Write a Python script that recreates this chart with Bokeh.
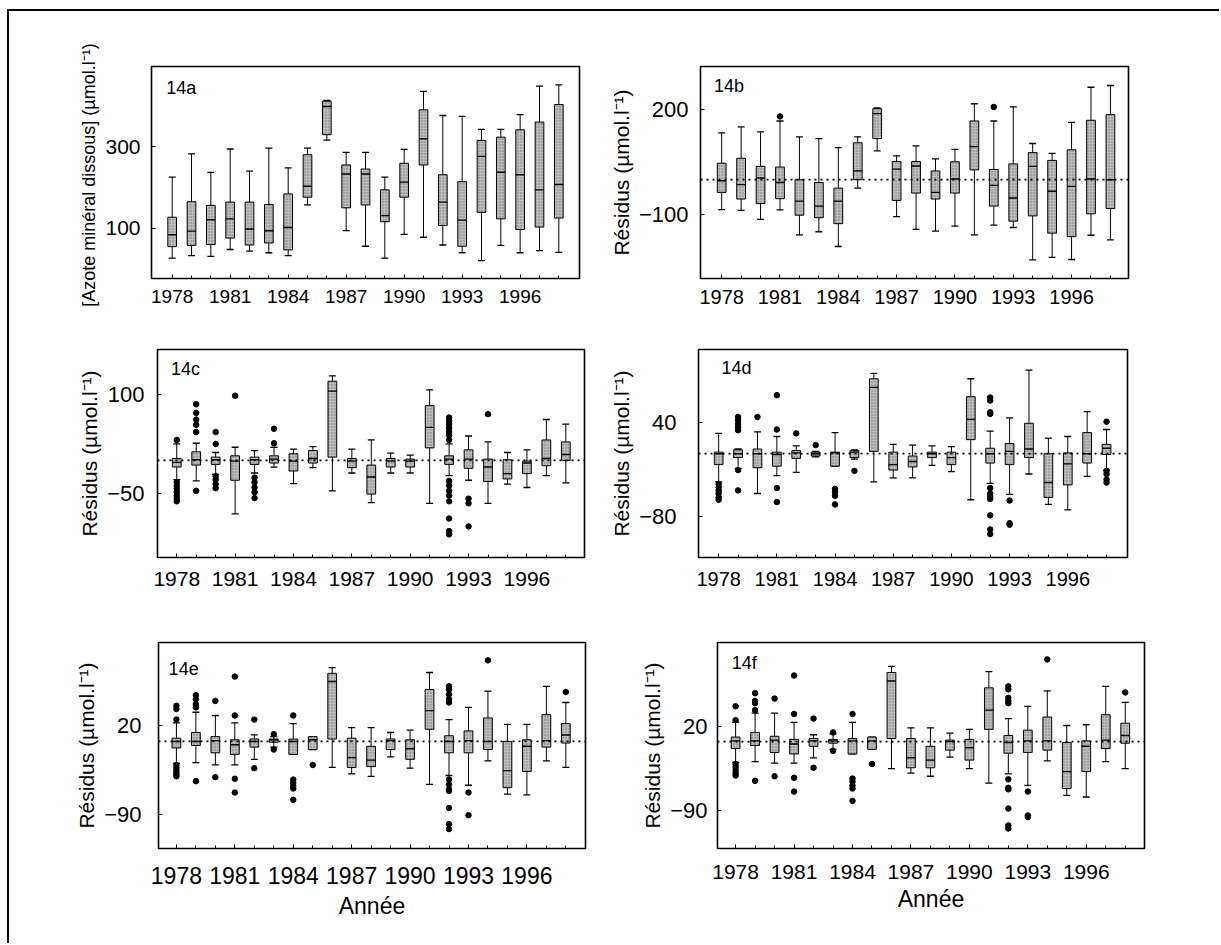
from bokeh.plotting import figure
from bokeh.layouts import column, row
from bokeh.models import FixedTicker, Span, Label, ColumnDataSource
from bokeh.embed import file_html
from bokeh.resources import INLINE

YEARS = list(range(1978, 1999))
LABEL_YEARS = [1978, 1981, 1984, 1987, 1990, 1993, 1996]

# ---- 14a : dissolved mineral nitrogen ----
A_HIGH = [225, 282, 237, 294, 240, 296, 248, 296, 413, 286, 286, 225, 293, 435, 376, 374, 342, 342, 378, 448, 451]
A_Q3 = [127, 165, 156, 164, 164, 158, 184, 280, 411, 255, 245, 194, 259, 390, 231, 214, 315, 323, 341, 360, 403]
A_MED = [84, 93, 121, 123, 98, 94, 102, 203, 398, 233, 233, 131, 213, 319, 164, 120, 276, 237, 231, 194, 207]
A_Q1 = [55, 58, 60, 76, 59, 64, 47, 176, 329, 150, 157, 116, 176, 255, 107, 56, 139, 123, 97, 103, 125]
A_LOW = [27, 33, 31, 48, 44, 40, 33, 157, 316, 94, 56, 27, 85, 78, 59, 40, 21, 58, 40, 45, 41]
A_OUT = {}

# ---- 14b ----
B_HIGH = [133, 150, 136, 167, 122, 117, 91, 122, 204, 68, 96, 59, 86, 216, 167, 207, 103, 75, 163, 263, 268]
B_Q3 = [47, 61, 38, 36, 0, -8, -24, 105, 202, 52, 52, 25, 51, 167, 29, 45, 77, 55, 85, 169, 185]
B_MED = [-3, -14, 5, -8, -61, -75, -61, 25, 188, 30, 39, -36, 2, 94, -16, -52, 38, -33, -19, 2, 0]
B_Q1 = [-36, -55, -68, -54, -101, -108, -125, 0, 117, -59, -38, -55, -38, 28, -75, -118, -103, -152, -162, -97, -82]
B_LOW = [-85, -87, -113, -86, -157, -148, -190, -24, 82, -105, -141, -146, -132, -157, -129, -136, -228, -221, -227, -158, -171]
B_OUT = {1981: [180], 1992: [207]}

# ---- 14c ----
C_HIGH = [25, 26, 12, 20, 15, 20, 17, 21, 128, 17, 31, 11, 8, 107, 25, 37, 28, 12, 16, 62, 55]
C_Q3 = [3, 13, 5, 7, 5, 7, 10, 15, 120, 3, -7, 3, 2, 83, 7, 16, 2, 1, -1, 31, 28]
C_MED = [-3, 1, 1, -1, 1, 2, -1, 3, 105, -1, -25, -1, -1, 50, 2, 2, -10, -20, -4, 3, 9]
C_Q1 = [-10, -7, -6, -30, -6, -4, -16, -4, 5, -11, -51, -10, -10, 19, -6, -12, -32, -28, -20, -8, 0]
C_LOW = [-29, -31, -21, -81, -19, -10, -35, -11, -46, -19, -64, -19, -19, -65, -23, -30, -65, -36, -41, -23, -34]
C_OUT = {1978: [31, -33, -38, -43, -48, -53, -58, -62],
         1979: [43, 54, 62, 72, 85, -46],
         1980: [25, 43, -24, -29, -36, -42],
         1981: [98],
         1982: [-26, -33, -41, -48, -57],
         1983: [26, 48],
         1992: [65, 60, 55, 49, 43, 38, 31, -31, -38, -46, -53, -62, -88, -107, -112],
         1993: [-58, -65, -100],
         1994: [70]}

# ---- 14d ----
D_HIGH = [26, 6, 28, 22, 10, 3, 27, 5, 103, 12, 11, 10, 9, 96, 29, 46, 107, 20, 22, 54, 31]
D_Q3 = [2, 5, 6, 2, 4, 2, 2, 4, 96, 2, -3, 2, 2, 73, 7, 13, 39, 0, 1, 27, 12]
D_MED = [0, 0, 0, -1, 1, 0, 1, 2, 85, -14, -10, 0, -5, 44, 0, 3, 6, -37, -13, 0, 7]
D_Q1 = [-14, -5, -18, -16, -6, -3, -16, -5, 3, -21, -17, -5, -14, 18, -12, -14, -5, -56, -40, -12, -1]
D_LOW = [-36, -19, -51, -28, -24, -4, -16, -7, -36, -31, -31, -15, -23, -59, -38, -52, -26, -65, -72, -29, -21]
D_OUT = {1978: [-39, -43, -47, -51, -56, -59],
         1979: [47, 43, 38, 34, 30, -21, -47],
         1980: [47],
         1981: [75, 31, -44, -62],
         1982: [26],
         1983: [11],
         1984: [-45, -49, -54, -65],
         1985: [-22],
         1992: [72, 68, 53, 51, -44, -51, -55, -58, -79, -97, -103],
         1993: [-60, -89, -91],
         1998: [41, -22, -26, -33, -37]}

# ---- 14e ----
E_HIGH = [23, 36, 32, 23, 8, 6, 22, 6, 91, 17, 17, 11, 14, 85, 27, 42, 62, 21, 21, 68, 48]
E_Q3 = [4, 11, 6, 2, 3, 3, 3, 6, 84, 4, -6, 3, 2, 64, 7, 13, 29, 0, 2, 33, 22]
E_MED = [0, 0, 1, -4, 0, 2, 0, 2, 74, -20, -23, 1, -9, 38, 0, 1, 0, -36, -6, 1, 8]
E_Q1 = [-8, -5, -14, -16, -7, -1, -16, -10, 3, -32, -31, -10, -22, 15, -14, -14, -10, -57, -37, -7, -2]
E_LOW = [-27, -26, -29, -29, -22, -7, -16, -10, -32, -40, -43, -19, -33, -53, -42, -54, -24, -65, -66, -24, -32]
E_OUT = {1978: [27, 40, 44, -29, -32, -35, -38, -41, -43],
         1979: [42, 46, 52, 57, -49],
         1980: [50, -44],
         1981: [32, 80, -46, -63],
         1982: [27, -33],
         1983: [9, -10],
         1984: [32, -47, -51, -55, -58, -72],
         1985: [-29],
         1992: [68, 64, 58, 52, 48, -47, -53, -59, -61, -82, -102, -108],
         1993: [-63, -91],
         1994: [100],
         1998: [61]}

# ---- 14f ----
F_HIGH = [25, 37, 37, 25, 9, 10, 25, 6, 98, 18, 18, 11, 16, 91, 30, 46, 66, 21, 22, 72, 51]
F_Q3 = [6, 12, 7, 3, 4, 3, 4, 6, 90, 4, -6, 2, 3, 70, 8, 15, 32, -1, 1, 35, 24]
F_MED = [1, 1, 2, -3, 1, 1, 1, 1, 79, -21, -24, 0, -8, 41, -1, 1, 1, -39, -6, 2, 8]
F_Q1 = [-9, -5, -14, -16, -6, -2, -16, -10, 4, -34, -34, -11, -24, 16, -15, -14, -11, -61, -39, -9, -2]
F_LOW = [-27, -26, -28, -28, -21, -10, -16, -10, -35, -41, -45, -20, -35, -54, -42, -57, -25, -70, -72, -26, -35]
F_OUT = {1978: [28, 46, -29, -33, -37, -41, -44],
         1979: [41, 50, 53, 63, -51],
         1980: [56, -45],
         1981: [36, 86, -47, -65],
         1982: [30, -34],
         1983: [12, -12],
         1984: [36, -48, -52, -57, -61, -77],
         1985: [-29],
         1992: [72, 68, 57, 53, 50, -49, -60, -62, -87, -109, -113],
         1993: [-65, -96, -98],
         1994: [107],
         1998: [64]}

FONT = "Liberation Sans"
RES_LABEL = "Résidus (µmol.l⁻¹)"

BOX_W = 0.45
CAP_W = 0.36


def panel(tag, hi, q3, med, q1, lo, out, xr, yr, yticks, size, borders,
          ylabel, xfs, yfs, ylab_fs, tag_pos, x_standoff, y_standoff,
          dotted=True, xlabel=None, xlab_standoff=5):
    w, h = size
    bl, br, bt, bb = borders
    p = figure(width=w, height=h, x_range=xr, y_range=yr,
               output_backend="svg", toolbar_location=None,
               min_border_left=bl, min_border_right=br,
               min_border_top=bt, min_border_bottom=bb)
    p.xgrid.visible = False
    p.ygrid.visible = False
    p.outline_line_color = "black"
    p.outline_line_width = 1.6
    p.background_fill_color = "white"
    p.border_fill_color = "white"

    xa = p.xaxis[0]
    xa.ticker = FixedTicker(ticks=LABEL_YEARS, minor_ticks=YEARS)
    xa.axis_line_color = None
    xa.major_tick_in = 4
    xa.major_tick_out = 0
    xa.minor_tick_in = 3
    xa.minor_tick_out = 0
    xa.major_label_standoff = x_standoff
    xa.major_label_text_font = FONT
    xa.major_label_text_font_size = f"{xfs}px"
    xa.major_label_text_color = "black"
    if xlabel:
        xa.axis_label = xlabel
        xa.axis_label_text_font = FONT
        xa.axis_label_text_font_style = "normal"
        xa.axis_label_text_font_size = "23px"
        xa.axis_label_text_color = "black"
        xa.axis_label_standoff = xlab_standoff

    ya = p.yaxis[0]
    ya.ticker = FixedTicker(ticks=yticks, minor_ticks=[])
    ya.axis_line_color = None
    ya.major_tick_in = 4
    ya.major_tick_out = 0
    ya.major_label_standoff = y_standoff
    ya.major_label_text_font = FONT
    ya.major_label_text_font_size = f"{yfs}px"
    ya.major_label_text_color = "black"
    ya.axis_label = ylabel
    ya.axis_label_text_font = FONT
    ya.axis_label_text_font_style = "normal"
    ya.axis_label_text_font_size = f"{ylab_fs}px"
    ya.axis_label_text_color = "black"
    ya.axis_label_standoff = 3

    if dotted:
        p.add_layout(Span(location=0, dimension="width", line_color="black",
                          line_width=1.8, line_dash="2 4"))

    src = ColumnDataSource(dict(
        x=YEARS, hi=hi, q3=q3, med=med, q1=q1, lo=lo,
        bx0=[y - BOX_W / 2 for y in YEARS], bx1=[y + BOX_W / 2 for y in YEARS],
        cx0=[y - CAP_W / 2 for y in YEARS], cx1=[y + CAP_W / 2 for y in YEARS],
    ))
    # whiskers
    p.segment(x0="x", x1="x", y0="q3", y1="hi", source=src, line_color="black", line_width=1)
    p.segment(x0="x", x1="x", y0="q1", y1="lo", source=src, line_color="black", line_width=1)
    p.segment(x0="cx0", x1="cx1", y0="hi", y1="hi", source=src, line_color="black", line_width=1.3)
    p.segment(x0="cx0", x1="cx1", y0="lo", y1="lo", source=src, line_color="black", line_width=1.3)
    # boxes
    p.vbar(x="x", width=BOX_W, top="q3", bottom="q1", source=src,
           fill_color="#bdbdbd", line_color="black", line_width=1,
           hatch_pattern="dot", hatch_color="#555555", hatch_scale=3, hatch_alpha=0.7)
    p.segment(x0="bx0", x1="bx1", y0="med", y1="med", source=src, line_color="black", line_width=1.4)

    ox, oy = [], []
    for yr_, vals in out.items():
        for v in vals:
            ox.append(yr_)
            oy.append(v)
    if ox:
        p.scatter(ox, oy, size=5.5, color="black")

    p.add_layout(Label(x=tag_pos[0], y=tag_pos[1], text=tag, text_font=FONT,
                       text_font_size="18px", text_baseline="middle", text_align="left",
                       text_color="black"))
    return p


pa = panel("14a", A_HIGH, A_Q3, A_MED, A_Q1, A_LOW, A_OUT,
           (1976.93, 1999.07), (-23, 496), [100, 300], (591, 309), (142, 21, 55, 42),
           "[Azote minéral dissous]  (µmol.l⁻¹)", 19, 21, 18, (1977.69, 444), 11, 11, dotted=False)
pb = panel("14b", B_HIGH, B_Q3, B_MED, B_Q1, B_LOW, B_OUT,
           (1976.91, 1998.93), (-281, 322), [-100, 200], (621, 309), (100, 93, 55, 40),
           RES_LABEL, 20, 22, 21, (1977.6, 267), 11, 12)
pc = panel("14c", C_HIGH, C_Q3, C_MED, C_Q1, C_LOW, C_OUT,
           (1977.01, 1998.96), (-147, 168), [-50, 100], (591, 290), (148, 16, 23, 53),
           RES_LABEL, 21, 22, 21, (1977.7, 139), 14, 13)
pd = panel("14d", D_HIGH, D_Q3, D_MED, D_Q1, D_LOW, D_OUT,
           (1976.96, 1999.08), (-133, 133.5), [-80, 40], (621, 290), (98, 94, 29, 48),
           RES_LABEL, 20, 22, 21, (1978.15, 110), 14, 22)
pe = panel("14e", E_HIGH, E_Q3, E_MED, E_Q1, E_LOW, E_OUT,
           (1977.08, 1999.01), (-132, 122), [-90, 20], (591, 335), (149, 15, 24, 97),
           RES_LABEL, 23, 22, 21, (1977.6, 90), 18, 17, xlabel="Année", xlab_standoff=6)
pf = panel("14f", F_HIGH, F_Q3, F_MED, F_Q1, F_LOW, F_OUT,
           (1977.07, 1998.99), (-139, 129), [-90, 20], (621, 335), (117, 77, 32, 95),
           RES_LABEL, 21, 22, 21, (1977.8, 102), 16, 10, xlabel="Année", xlab_standoff=4)

layout = column(row(pa, pb), row(pc, pd), row(pe, pf),
                styles={"margin-left": "9px", "margin-top": "11px",
                        "box-shadow": "-2px -2px 0 0 black",
                        "background-color": "white"})

open("out.html", "w").write(file_html(layout, INLINE))
